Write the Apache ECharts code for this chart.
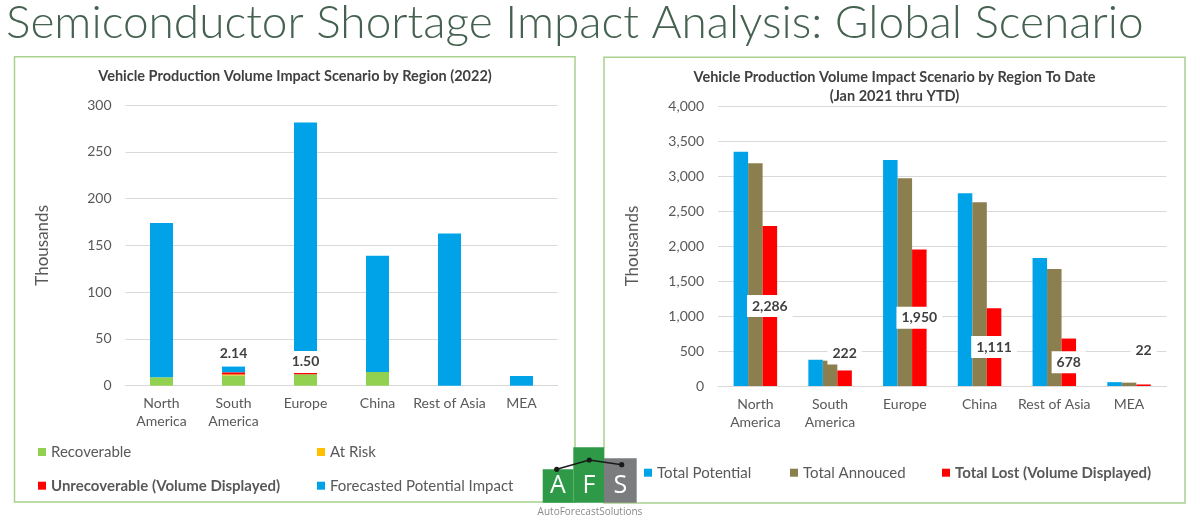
<!DOCTYPE html>
<html>
<head>
<meta charset="UTF-8">
<title>Semiconductor Shortage Impact Analysis</title>
<script src="https://cdn.jsdelivr.net/npm/echarts@6.0.0/dist/echarts.min.js"></script>
<style>
body { margin: 0; background: #fff; }
#main { width: 1200px; height: 521px; }
</style>
</head>
<body>
<div id="main"></div>
<script type="text/javascript">
// categories (same for both panels)
var regions = ['North\nAmerica', 'South\nAmerica', 'Europe', 'China', 'Rest of Asia', 'MEA'];

// left panel: 2022 scenario, thousands of units (stacked)
var recoverable   = [9, 11, 12.2, 14.7, 0, 0];
var atRisk        = [0, 1, 0, 0, 0, 0];
var unrecoverable = [0, 2.14, 1.5, 0, 0, 0];
var forecasted    = [165, 6.3, 267.5, 124.3, 162.6, 10.4];

// right panel: Jan 2021 thru YTD, thousands of units
var totalPotential = [3347, 375, 3229, 2752, 1829, 55];
var totalAnnouced  = [3181, 362, 2967, 2624, 1671, 48];
var totalLost      = [2286, 222, 1950, 1111, 678, 22];

var leftTicks  = { min: 0, max: 300, interval: 50 };
var rightTicks = { min: 0, max: 4000, interval: 500 };

var FONT = 'Lato';
var GREY = '#595959';
var DARK = '#404040';
var GRID = '#d9d9d9';

var myChart = echarts.init(document.getElementById('main'));

// label lifts for the little bars (px above the bar)
var leftLift = { 1: 8, 2: 0 };
var rightLift = { 1: 6, 5: 23 };

var boxLabel = {
    fontFamily: FONT, fontSize: 14, fontWeight: 'bold', color: DARK,
    backgroundColor: '#fff', padding: [3, 5], lineHeight: 16
};

var unrecData = unrecoverable.map(function (v, i) {
    return {
        value: v,
        label: { show: v > 0, position: 'top', distance: leftLift[i] || 0 }
    };
});
var lostData = totalLost.map(function (v, i) {
    if (rightLift[i] !== undefined) {
        return { value: v, label: { position: 'top', distance: rightLift[i] } };
    }
    return v;
});

function xAxisOf(idx) {
    return {
        type: 'category', gridIndex: idx, data: regions,
        axisLine: { lineStyle: { color: GRID } },
        axisTick: { show: false },
        axisLabel: { interval: 0, color: GREY, fontFamily: FONT, fontSize: 14, lineHeight: 18, margin: 9 }
    };
}
function yAxisOf(idx, ticks, gap, fmt) {
    return {
        type: 'value', gridIndex: idx, min: ticks.min, max: ticks.max, interval: ticks.interval,
        name: 'Thousands', nameLocation: 'middle', nameRotate: 90, nameGap: gap,
        nameTextStyle: { color: GREY, fontFamily: FONT, fontSize: 17 },
        axisLine: { show: false }, axisTick: { show: false },
        axisLabel: { color: GREY, fontFamily: FONT, fontSize: 14, margin: 14, formatter: fmt },
        splitLine: { lineStyle: { color: GRID } }
    };
}
function legendAt(name, left, top, bold) {
    return {
        data: [name], left: left, top: top, padding: 0, icon: 'rect', itemWidth: 8, itemHeight: 8,
        selectedMode: false,
        textStyle: { color: GREY, fontFamily: FONT, fontSize: 15, lineHeight: 18, fontWeight: bold ? 'bold' : 'normal' }
    };
}

var option = {
    backgroundColor: '#fff',
    animation: false,
    grid: [
        { left: 125.5, right: 642.5, top: 105, bottom: 135.3 },
        { left: 718, right: 33.6, top: 106, bottom: 135 }
    ],
    xAxis: [xAxisOf(0), xAxisOf(1)],
    yAxis: [
        yAxisOf(0, leftTicks, 74, null),
        yAxisOf(1, rightTicks, 77, function (v) { return v.toLocaleString('en-US'); })
    ],
    legend: [
        legendAt('Recoverable', 38, 443),
        legendAt('At Risk', 317, 443),
        legendAt('Unrecoverable (Volume Displayed)', 38, 476.7, true),
        legendAt('Forecasted Potential Impact', 317, 476.7),
        legendAt('Total Potential', 644, 463.7),
        legendAt('Total Annouced', 790, 463.7),
        legendAt('Total Lost (Volume Displayed)', 942, 463.7, true)
    ],
    series: [
        { name: 'Recoverable', type: 'bar', stack: 'l', xAxisIndex: 0, yAxisIndex: 0, barWidth: 23,
          itemStyle: { color: '#92d050' }, data: recoverable },
        { name: 'At Risk', type: 'bar', stack: 'l', xAxisIndex: 0, yAxisIndex: 0, barWidth: 23,
          itemStyle: { color: '#ffc000' }, data: atRisk },
        { name: 'Unrecoverable (Volume Displayed)', type: 'bar', stack: 'l', xAxisIndex: 0, yAxisIndex: 0, barWidth: 23,
          z: 3, itemStyle: { color: '#ff0000' },
          label: Object.assign({ formatter: function (p) { return p.value.toFixed(2); } }, boxLabel),
          data: unrecData },
        { name: 'Forecasted Potential Impact', type: 'bar', stack: 'l', xAxisIndex: 0, yAxisIndex: 0, barWidth: 23,
          itemStyle: { color: '#00a3e8' }, data: forecasted },

        { name: 'Total Potential', type: 'bar', xAxisIndex: 1, yAxisIndex: 1, barWidth: 14.5, barGap: '0%',
          itemStyle: { color: '#00a3e8' }, data: totalPotential },
        { name: 'Total Annouced', type: 'bar', xAxisIndex: 1, yAxisIndex: 1, barWidth: 14.5, barGap: '0%',
          itemStyle: { color: '#8c7f4f' }, data: totalAnnouced },
        { name: 'Total Lost (Volume Displayed)', type: 'bar', xAxisIndex: 1, yAxisIndex: 1, barWidth: 14.5, barGap: '0%',
          z: 3, itemStyle: { color: '#ff0000' },
          label: Object.assign({ show: true, position: 'inside',
              formatter: function (p) { return p.value.toLocaleString('en-US'); } }, boxLabel),
          data: lostData }
    ],
    graphic: [
        // page title
        { type: 'text', left: 6, top: 0, z: 10,
          style: { text: 'Semiconductor Shortage Impact Analysis: Global Scenario',
                   fontFamily: FONT, fontSize: 46, fontWeight: 300, fill: '#456150' } },
        // panel frames
        { type: 'rect', shape: { x: 14.5, y: 56.7, width: 560.5, height: 445.3 }, z: 0,
          style: { fill: null, stroke: '#a9d18e', lineWidth: 1.5 } },
        { type: 'rect', shape: { x: 604, y: 57.3, width: 581, height: 445.7 }, z: 0,
          style: { fill: null, stroke: '#a9d18e', lineWidth: 1.5 } },
        // chart titles
        { type: 'text', x: 295, y: 76.7, z: 10,
          style: { text: 'Vehicle Production Volume Impact Scenario by Region (2022)', align: 'center', verticalAlign: 'middle',
                   fontFamily: FONT, fontSize: 14.5, fontWeight: 'bold', fill: DARK } },
        { type: 'text', x: 894.5, y: 87, z: 10,
          style: { text: 'Vehicle Production Volume Impact Scenario by Region To Date\n(Jan 2021 thru YTD)',
                   align: 'center', verticalAlign: 'middle', lineHeight: 19.4,
                   fontFamily: FONT, fontSize: 14.5, fontWeight: 'bold', fill: DARK } },
        // AFS logo
        { type: 'group', z: 20, children: [
            { type: 'rect', shape: { x: 542.7, y: 469.3, width: 30.6, height: 33.4 }, style: { fill: '#2e9a48' } },
            { type: 'rect', shape: { x: 573.3, y: 447.3, width: 30.7, height: 55.4 }, style: { fill: '#2e9a48' } },
            { type: 'rect', shape: { x: 604, y: 458.3, width: 32.7, height: 44.4 }, style: { fill: '#7b7c7e' } },
            { type: 'polyline', shape: { points: [[556.7, 469.3], [589.3, 460], [621.7, 464.7]] },
              style: { stroke: '#1a1a1a', lineWidth: 1.5, fill: null } },
            { type: 'circle', shape: { cx: 556.7, cy: 469.3, r: 2.6 }, style: { fill: '#1a1a1a' } },
            { type: 'circle', shape: { cx: 589.3, cy: 460, r: 2.6 }, style: { fill: '#1a1a1a' } },
            { type: 'circle', shape: { cx: 621.7, cy: 464.7, r: 2.6 }, style: { fill: '#1a1a1a' } },
            { type: 'text', x: 558, y: 486, style: { text: 'A', align: 'center', verticalAlign: 'middle',
              fontFamily: 'Open Sans', fontSize: 25, fill: '#fff' } },
            { type: 'text', x: 589, y: 486, style: { text: 'F', align: 'center', verticalAlign: 'middle',
              fontFamily: 'Open Sans', fontSize: 25, fill: '#fff' } },
            { type: 'text', x: 620.4, y: 486, style: { text: 'S', align: 'center', verticalAlign: 'middle',
              fontFamily: 'Open Sans', fontSize: 25, fill: '#fff' } },
            { type: 'text', x: 590, y: 512, style: { text: 'AutoForecastSolutions', align: 'center', verticalAlign: 'middle',
              fontFamily: 'Open Sans', fontSize: 10, fill: '#8a8a8a' } }
        ] }
    ]
};

myChart.setOption(option);
</script>
</body>
</html>
